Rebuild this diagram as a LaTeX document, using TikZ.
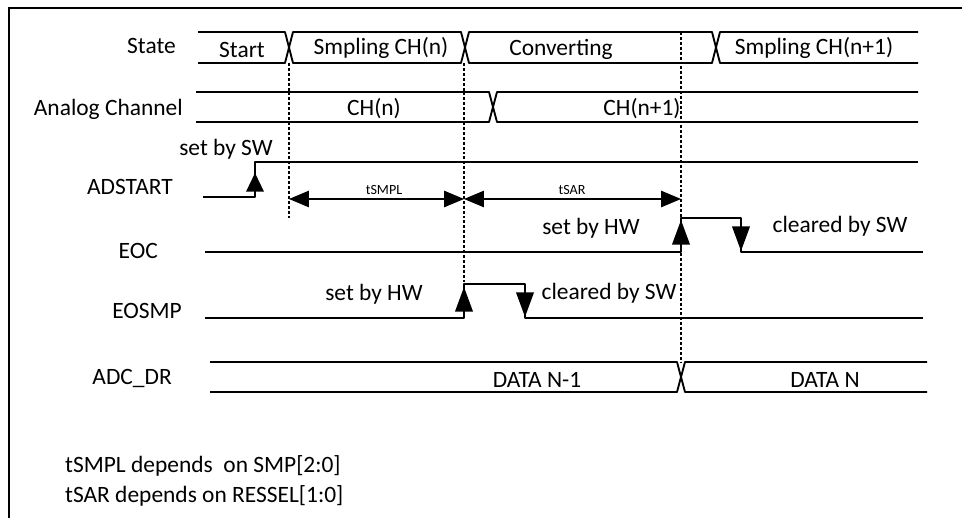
\documentclass[tikz,border=0pt]{standalone}
\usepackage{fontspec}
\setmainfont{Carlito}
\usetikzlibrary{arrows.meta}
\tikzstyle{txt}=[inner sep=0pt, font=\fontsize{20}{24}\selectfont, text height=13pt, text depth=0pt]
\tikzstyle{signame}=[txt, anchor=east]
\tikzstyle{small}=[inner sep=0pt, font=\fontsize{12}{14}\selectfont, text height=7.5pt, text depth=0pt]
\tikzstyle{wave}=[line width=1.6pt, line join=round]
\tikzstyle{guide}=[line width=1pt, dash pattern=on 2.5pt off 1.7pt]
\tikzstyle{rise}=[-{Triangle[length=21pt,width=15pt]}]
\tikzstyle{dimline}=[line width=1.1pt, {Triangle[length=17pt,width=14pt]}-{Triangle[length=17pt,width=14pt]}]

\begin{document}
\begin{tikzpicture}[x=0.3mm, y=-0.3mm]
\useasboundingbox (0,0) rectangle (962,518);
\draw[line width=1.6pt] (9,518) -- (9,8) -- (962,8);

\node[signame] (state) at (176,46) {State};
\node[signame] (analog) at (183,108) {Analog Channel};
\node[signame] (adstart) at (173,187) {ADSTART};
\node[signame] (eoc) at (158,251) {EOC};
\node[signame] (eosmp) at (182,311) {EOSMP};
\node[signame] (adcdr) at (172,377) {ADC\_DR};

\draw[wave] (198,32) -- (285,32) -- (289,47.5) -- (285,63) -- (198,63);
\draw[wave] (289,47.5) -- (293,32) -- (461,32) -- (465,47.5) -- (461,63) -- (293,63) -- cycle;
\draw[wave] (465,47.5) -- (469,32) -- (712,32) -- (716,47.5) -- (712,63) -- (469,63) -- cycle;
\draw[wave] (918,32) -- (720,32) -- (716,47.5) -- (720,63) -- (918,63);
\node[txt] (st1) at (242,50) {Start};
\node[txt] (st2) at (381,47) {Smpling CH(n)};
\node[txt] (st3) at (561,48) {Converting};
\node[txt] (st4) at (814,47) {Smpling CH(n+1)};

\draw[wave] (196,92) -- (489,92) -- (493,107) -- (489,122) -- (196,122);
\draw[wave] (918,92) -- (497,92) -- (493,107) -- (497,122) -- (918,122);
\node[txt] (ch1) at (374,108) {CH(n)};
\node[txt] (ch2) at (642,108) {CH(n+1)};

\draw[wave] (203,197) -- (255,197) -- (255,162) -- (918,162);
\draw[wave, -{Triangle[length=16pt,width=15pt]}] (255,197) -- (255,173);
\node[txt] (setsw) at (226,148) {set by SW};

\coordinate (m1) at (289,199);
\coordinate (m2) at (464,199);
\coordinate (m3) at (681,199);
\draw[dimline] (m1) -- (m2);
\draw[dimline] (m2) -- (m3);
\node[small] (tsmpl) at (384,190) {tSMPL};
\node[small] (tsar) at (572,190) {tSAR};

\draw[wave] (205,252) -- (681,252) -- (681,218) -- (741,218) -- (741,252) -- (923,252);
\draw[wave, rise] (681,252) -- (681,220);
\draw[wave, rise] (741,218) -- (741,251);
\node[txt] (eochw) at (591,227) {set by HW};
\node[txt] (eocsw) at (840,225) {cleared by SW};

\draw[wave] (205,318) -- (464,318) -- (464,284) -- (525,284) -- (525,318) -- (923,318);
\draw[wave, rise] (464,318) -- (464,287);
\draw[wave, rise] (525,284) -- (525,317);
\node[txt] (smphw) at (374,293) {set by HW};
\node[txt] (smpsw) at (609,292) {cleared by SW};

\draw[wave] (210,362) -- (677,362) -- (681,377) -- (677,392) -- (210,392);
\draw[wave] (927,362) -- (685,362) -- (681,377) -- (685,392) -- (927,392);
\node[txt] (data1) at (537,380) {DATA N-1};
\node[txt] (data2) at (825,380) {DATA N};

\draw[guide] (289,63) -- (289,218);
\draw[guide] (464,63) -- (464,284);
\draw[guide] (681,32) -- (681,362);

\node[txt, anchor=west] (note1) at (65,465) {tSMPL depends~ on SMP[2:0]};
\node[txt, anchor=west] (note2) at (65,495) {tSAR depends on RESSEL[1:0]};
\end{tikzpicture}
\end{document}
